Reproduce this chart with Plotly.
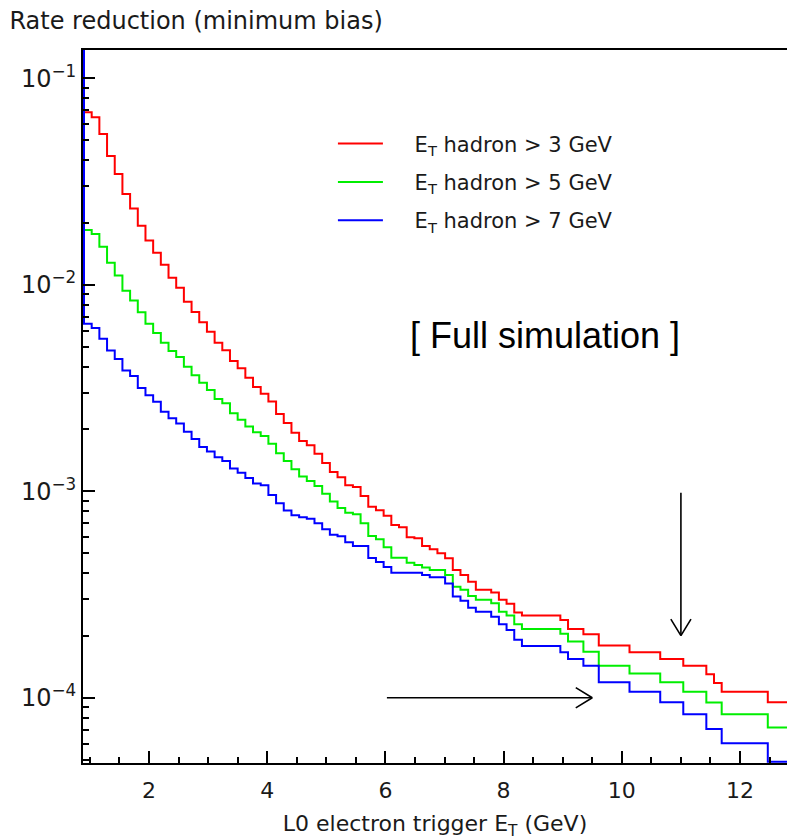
import numpy as np
import plotly.graph_objects as go

# ---------------- data ----------------
bin_low = 0.90          # GeV, first bin edge
bin_width = 0.13        # GeV
underflow = 1.0         # off-scale value below the first edge

et_had3 = [0.0684, 0.0647, 0.0537, 0.0420, 0.0344, 0.0275, 0.0234, 0.0193, 0.0164, 0.0143,
           0.0125, 0.0108, 0.00968, 0.00828, 0.00738, 0.00658, 0.00593, 0.00524, 0.00482, 0.00428,
           0.00394, 0.00355, 0.00320, 0.00297, 0.00272, 0.00237, 0.00214, 0.00192, 0.00175, 0.00167,
           0.00152, 0.00137, 0.00124, 0.00117, 0.00107, 0.00105, 0.000949, 0.000842, 0.000810, 0.000762,
           0.000687, 0.000669, 0.000599, 0.000592, 0.000543, 0.000524, 0.000501, 0.000474, 0.000416, 0.000393,
           0.000365, 0.000333, 0.000333, 0.000323, 0.000298, 0.000285, 0.000259, 0.000250, 0.000250, 0.000250,
           0.000250, 0.000250, 0.000238, 0.000215, 0.000215, 0.000203, 0.000203, 0.000179, 0.000179, 0.000179,
           0.000179, 0.000166, 0.000166, 0.000166, 0.000166, 0.000154, 0.000154, 0.000154, 0.000143, 0.000143,
           0.000143, 0.000130, 0.000118, 0.000107, 0.000107, 0.000107, 0.000107, 0.000107, 0.000107, 0.0000951,
           0.0000951, 0.0000951]

et_had5 = [0.0184, 0.0176, 0.0153, 0.0128, 0.0111, 0.00936, 0.00838, 0.00736, 0.00648, 0.00584,
           0.00524, 0.00478, 0.00447, 0.00401, 0.00365, 0.00335, 0.00309, 0.00280, 0.00267, 0.00239,
           0.00222, 0.00206, 0.00193, 0.00185, 0.00170, 0.00153, 0.00140, 0.00128, 0.00118, 0.00112,
           0.00106, 0.000974, 0.000893, 0.000830, 0.000788, 0.000774, 0.000700, 0.000607, 0.000585, 0.000536,
           0.000477, 0.000477, 0.000451, 0.000440, 0.000427, 0.000416, 0.000416, 0.000393, 0.000345, 0.000333,
           0.000311, 0.000298, 0.000298, 0.000287, 0.000261, 0.000250, 0.000227, 0.000215, 0.000215, 0.000215,
           0.000215, 0.000215, 0.000204, 0.000187, 0.000187, 0.000167, 0.000167, 0.000143, 0.000143, 0.000143,
           0.000143, 0.000131, 0.000131, 0.000131, 0.000131, 0.000119, 0.000119, 0.000119, 0.000107, 0.000107,
           0.000107, 0.0000949, 0.0000949, 0.0000832, 0.0000832, 0.0000832, 0.0000832, 0.0000832, 0.0000832, 0.0000717,
           0.0000717, 0.0000717]

et_had7 = [0.00648, 0.00618, 0.00548, 0.00480, 0.00437, 0.00384, 0.00362, 0.00316, 0.00292, 0.00271,
           0.00243, 0.00226, 0.00213, 0.00194, 0.00179, 0.00164, 0.00156, 0.00146, 0.00140, 0.00129,
           0.00123, 0.00116, 0.00109, 0.00107, 0.000960, 0.000875, 0.000806, 0.000766, 0.000748, 0.000737,
           0.000700, 0.000655, 0.000616, 0.000605, 0.000566, 0.000543, 0.000543, 0.000475, 0.000454, 0.000430,
           0.000403, 0.000403, 0.000403, 0.000403, 0.000393, 0.000383, 0.000383, 0.000358, 0.000309, 0.000295,
           0.000273, 0.000261, 0.000261, 0.000247, 0.000227, 0.000213, 0.000191, 0.000178, 0.000178, 0.000178,
           0.000178, 0.000178, 0.000166, 0.000154, 0.000154, 0.000143, 0.000143, 0.000119, 0.000119, 0.000119,
           0.000119, 0.000107, 0.000107, 0.000107, 0.000107, 0.0000951, 0.0000951, 0.0000951, 0.0000832, 0.0000832,
           0.0000832, 0.0000706, 0.0000706, 0.0000602, 0.0000602, 0.0000602, 0.0000602, 0.0000602, 0.0000602, 0.0000490,
           0.0000490, 0.0000490]

series_names = ["E<sub>T</sub> hadron &gt; 3 GeV", "E<sub>T</sub> hadron &gt; 5 GeV", "E<sub>T</sub> hadron &gt; 7 GeV"]
series_colors = ["#ff0000", "#00ee00", "#0000ff"]

y_tick_vals = [1e-4, 1e-3, 1e-2, 1e-1]
y_tick_text = ["10<sup>−4</sup>", "10<sup>−3</sup>", "10<sup>−2</sup>", "10<sup>−1</sup>"]
x_tick_vals = [2, 4, 6, 8, 10, 12]
x_tick_text = ["2", "4", "6", "8", "10", "12"]

# ---------------- figure ----------------
TXT = "#1a1a1a"
FONT = "DejaVu Sans"
LEG_PAD = "\u00a0" * 4

fig = go.Figure()
for vals, name, col in zip([et_had3, et_had5, et_had7], series_names, series_colors):
    n = len(vals)
    edges = bin_low + bin_width * np.arange(-1, n + 1)
    ys = [underflow] + list(vals) + [vals[-1]]
    fig.add_trace(go.Scatter(
        x=edges, y=ys, mode="lines", name=LEG_PAD + name, legendgroup=name,
        line=dict(color=col, width=2, shape="hv"),
    ))

minor_y = [m * 10.0 ** e for e in range(-5, 0) for m in range(2, 10)]
minor_x = [v / 2 for v in range(1, 27) if v % 4 != 0]

fig.update_layout(
    width=787, height=840,
    margin=dict(l=83, r=0, t=50, b=77),
    paper_bgcolor="white", plot_bgcolor="white",
    font=dict(family=FONT, color=TXT),
    title=dict(text="Rate reduction (minimum bias)", x=0.012, xanchor="left",
               y=1 - 21 / 840, yanchor="middle", font=dict(size=24, family=FONT, color=TXT)),
    showlegend=True,
    legend=dict(x=0.355, y=0.897, xanchor="left", yanchor="top",
                bgcolor="rgba(0,0,0,0)", font=dict(size=21, family=FONT, color=TXT),
                tracegroupgap=8, itemwidth=45),
)

fig.update_xaxes(
    range=[0.883, 0.883 + 704 / 59.1],
    showline=True, linecolor="black", linewidth=2, mirror=True,
    showgrid=False, zeroline=False,
    ticks="inside", ticklen=12, tickwidth=1.5, tickcolor="black",
    tickvals=x_tick_vals, ticktext=x_tick_text, ticklabelstandoff=7,
    tickfont=dict(size=22, family=FONT, color=TXT),
    minor=dict(ticks="inside", ticklen=6, tickwidth=1.5, tickcolor="black", tickvals=minor_x, showgrid=False),
    title=dict(text="L0 electron trigger E<sub>T</sub> (GeV)", font=dict(size=22, family=FONT, color=TXT), standoff=21),
)

fig.update_yaxes(
    type="log", range=[-4.316, -0.863],
    showline=True, linecolor="black", linewidth=2, mirror=False,
    showgrid=False, zeroline=False,
    ticks="inside", ticklen=12, tickwidth=1.5, tickcolor="black",
    tickvals=y_tick_vals, ticktext=y_tick_text,
    tickfont=dict(size=24, family=FONT, color=TXT),
    minor=dict(ticks="inside", ticklen=6, tickwidth=1.5, tickcolor="black", tickvals=minor_y, showgrid=False),
)

# text label
fig.add_annotation(text="[ Full simulation ]", xref="paper", yref="paper", x=0.656, y=0.600,
                   showarrow=False, font=dict(size=36, family="Liberation Sans", color="black"))

# arrows: tip and tail in data units, head legs as pixel offsets from the tip
arrow_specs = [
    dict(x=11.0, y=2.0e-4, ax=11.0, ay=1.0e-3, legs=[(-11, -18), (11, -18)]),
    dict(x=9.5, y=1.0e-4, ax=6.0, ay=1.0e-4, legs=[(-18, -11), (-18, 11)]),
]
for a in arrow_specs:
    fig.add_annotation(x=a["x"], y=np.log10(a["y"]), ax=a["ax"], ay=np.log10(a["ay"]),
                       xref="x", yref="y", axref="x", ayref="y", text="",
                       showarrow=True, arrowhead=0, arrowwidth=1.6, arrowcolor="black")
    for dx, dy in a["legs"]:
        fig.add_annotation(x=a["x"], y=np.log10(a["y"]), ax=dx, ay=dy, xref="x", yref="y",
                           text="", showarrow=True, arrowhead=0, arrowwidth=1.6, arrowcolor="black")

fig.write_html("out.html")
